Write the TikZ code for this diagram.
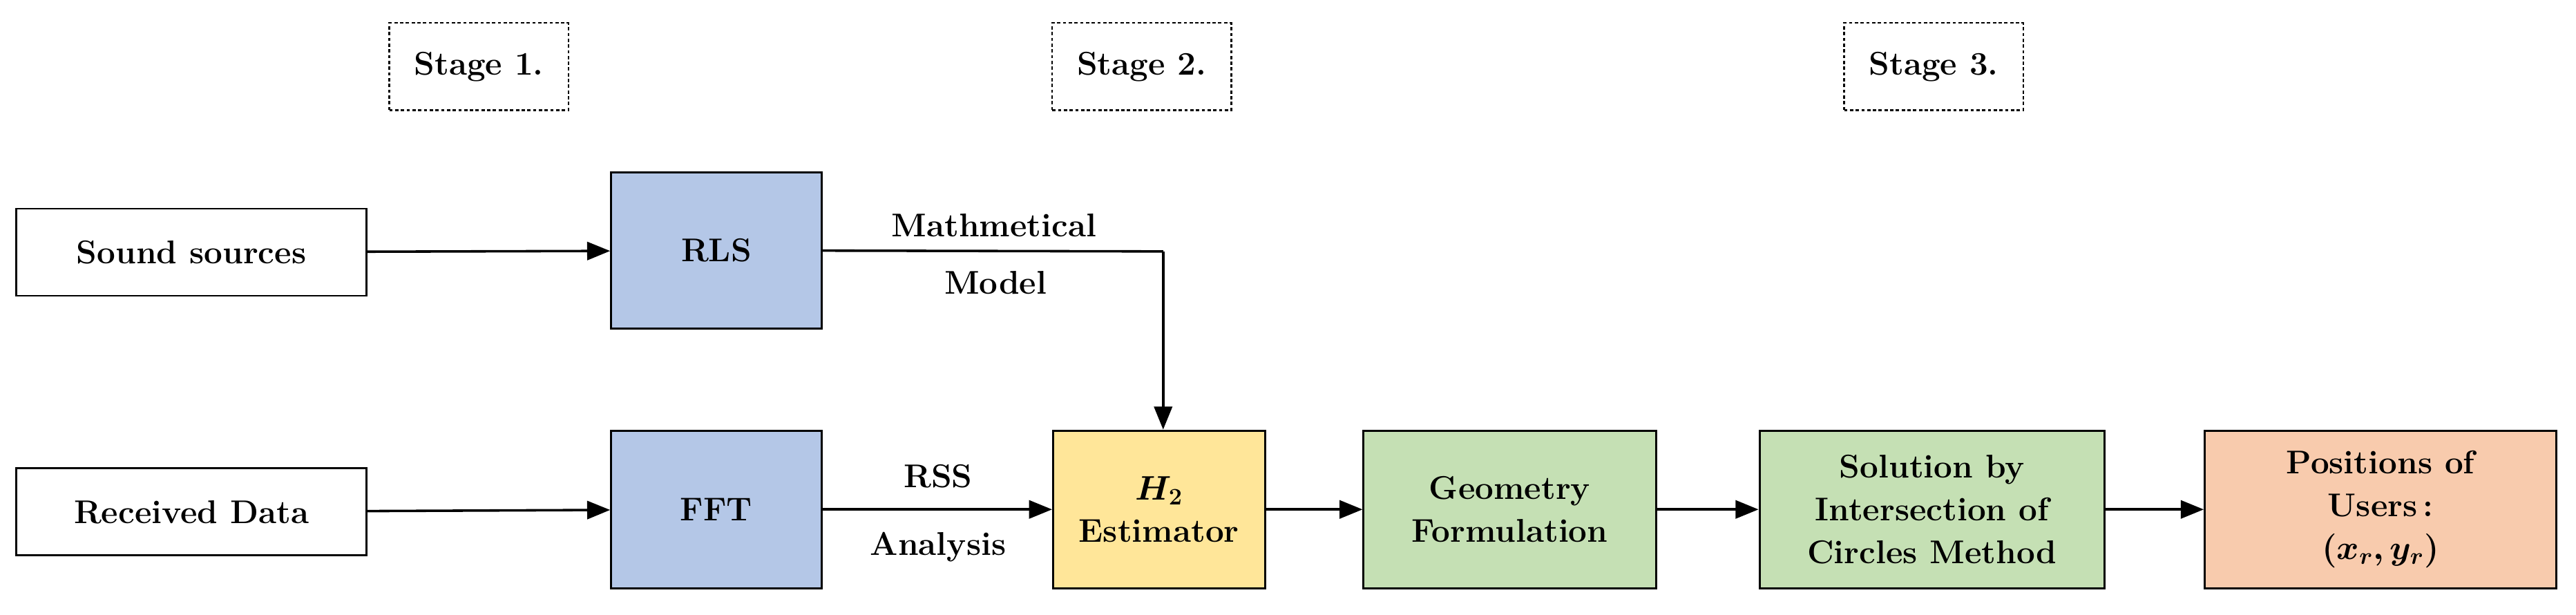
\documentclass[tikz,border=0pt]{standalone}
\usepackage{amsmath,bm}
\usetikzlibrary{arrows.meta}
\definecolor{cb}{HTML}{B4C7E7}
\definecolor{cy}{HTML}{FFE699}
\definecolor{cg}{HTML}{C5E0B4}
\definecolor{cs}{HTML}{F8CBAD}
\begin{document}
\begin{tikzpicture}[x=1pt,y=-1pt,
  box/.style={draw,line width=1.2pt,minimum width=#1,align=center,font=\fontsize{20}{26}\selectfont\bfseries},
  stg/.style={draw,dashed,dash pattern=on 2pt off 1.5pt,line width=1pt,minimum width=109pt,minimum height=53pt,font=\fontsize{20}{24}\selectfont\bfseries},
  lab/.style={font=\fontsize{20}{24}\selectfont\bfseries},
  arr/.style={line width=1.5pt,-{Triangle[length=14pt,width=11pt]}}]
\useasboundingbox (0,0) rectangle (1568,374);
\node[stg] (s1) at (291.5,40.5) {Stage 1.};
\node[stg] (s2) at (695,40.5) {Stage 2.};
\node[stg] (s3) at (1177,40.5) {Stage 3.};
\node[box=213pt,minimum height=53pt] (ss) at (116.5,153.5) {Sound sources};
\node[box=128pt,minimum height=95pt,fill=cb] (rls) at (436,152.5) {RLS};
\node[box=213pt,minimum height=53pt] (rd) at (116.5,311.5) {Received Data};
\node[box=128pt,minimum height=96pt,fill=cb] (fft) at (436,310) {FFT};
\node[box=129pt,minimum height=96pt,fill=cy] (h2) at (705.5,310) {$\bm{H_2}$\\Estimator};
\node[box=178pt,minimum height=96pt,fill=cg] (geo) at (919,310) {Geometry\\Formulation};
\node[box=210pt,minimum height=96pt,fill=cg] (sol) at (1176,310) {Solution by\\Intersection of\\Circles Method};
\node[box=214pt,minimum height=96pt,fill=cs] (pos) at (1449,310) {Positions of\\Users\,:\\$\bm{(x_r,y_r)}$};
\coordinate (c) at (708,153);
\draw[arr] (ss) -- (rls);
\draw[arr] (rd) -- (fft);
\draw[line width=1.5pt] (rls.east) -- (c);
\draw[arr] (c) -- (h2.north -| c);
\draw[arr] (fft) -- (h2);
\draw[arr] (h2) -- (geo);
\draw[arr] (geo) -- (sol);
\draw[arr] (sol) -- (pos);
\node[lab] (l1) at (605,137) {Mathmetical};
\node[lab] (l2) at (606,172) {Model};
\node[lab] (l3) at (571,290) {RSS};
\node[lab] (l4) at (571,333) {Analysis};
\end{tikzpicture}
\end{document}
